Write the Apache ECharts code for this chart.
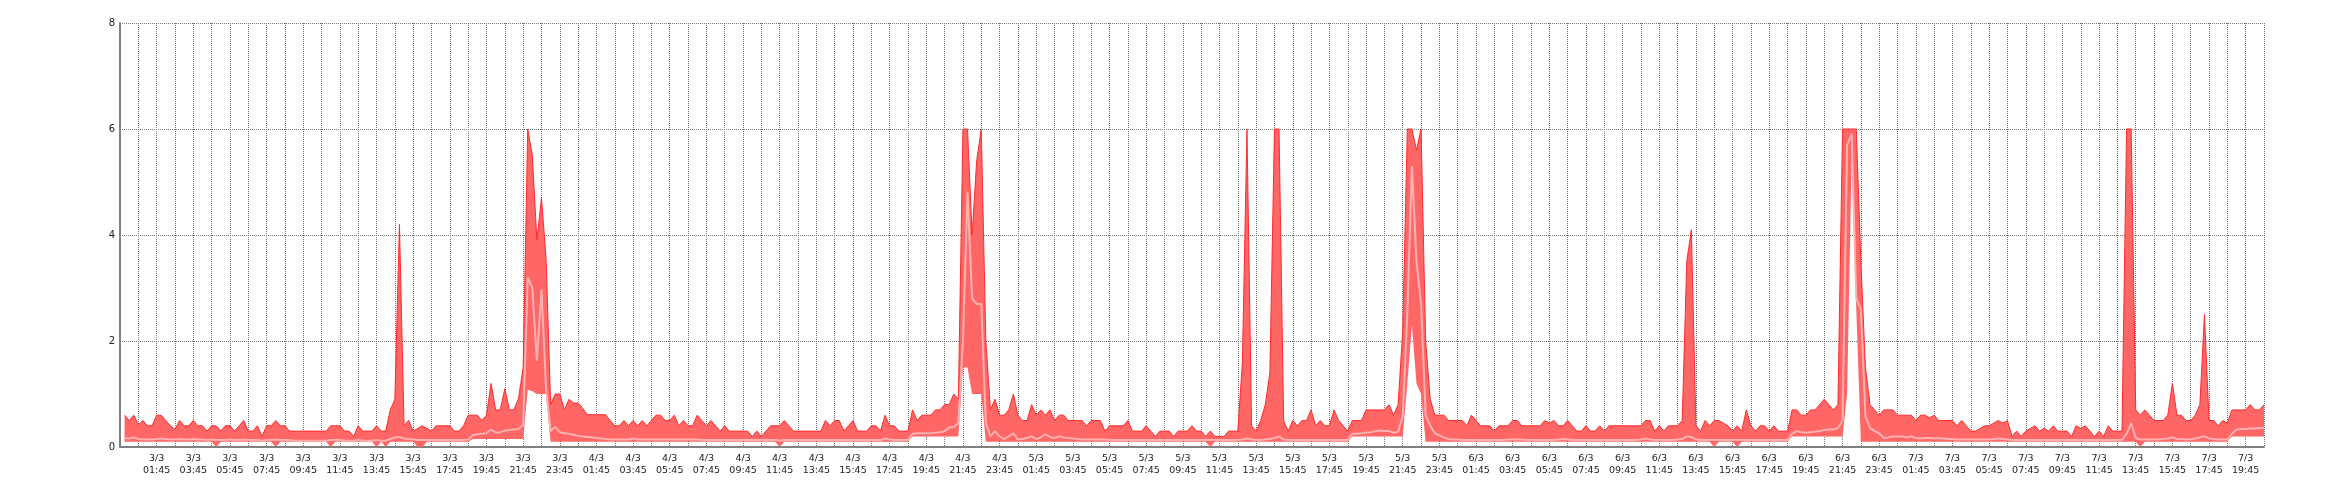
<!DOCTYPE html>
<html><head><meta charset="utf-8">
<script src="https://cdn.jsdelivr.net/npm/echarts@6/dist/echarts.min.js"></script>
<style>html,body{margin:0;padding:0;background:#fff}#c{width:2340px;height:500px}</style>
</head><body><div id="c"></div>
<script>
// day labels of the x axis
const days = ['3/3', '4/3', '5/3', '6/3', '7/3'];
// first sample time, in hours relative to 3/3 00:45, and sample step (15 min)
const firstT = -0.75;
const stepH = 0.25;

// maximum per 15-minute sample
const maxVals = [
0.6,0.5,0.6,0.42,0.5,0.4,0.4,0.6,0.6,0.5,
0.4,0.33,0.5,0.4,0.4,0.5,0.4,0.4,0.3,0.4,
0.4,0.3,0.4,0.4,0.3,0.4,0.5,0.3,0.3,0.4,
0.2,0.4,0.4,0.5,0.4,0.4,0.3,0.3,0.3,0.3,
0.3,0.3,0.3,0.3,0.3,0.4,0.4,0.4,0.3,0.3,
0.2,0.4,0.3,0.3,0.3,0.4,0.3,0.3,0.7,0.9,
4.2,0.4,0.5,0.3,0.35,0.4,0.35,0.3,0.4,0.4,
0.4,0.4,0.3,0.3,0.4,0.6,0.6,0.6,0.5,0.6,
1.2,0.7,0.7,1.1,0.7,0.7,0.92,1.5,6.0,5.5,
3.9,4.7,3.57,0.8,1.0,1.0,0.7,0.9,0.83,0.83,
0.73,0.61,0.61,0.61,0.61,0.61,0.5,0.4,0.4,0.5,
0.4,0.5,0.4,0.5,0.4,0.5,0.6,0.6,0.5,0.5,
0.6,0.4,0.5,0.4,0.4,0.6,0.5,0.4,0.5,0.4,
0.3,0.4,0.3,0.3,0.3,0.3,0.3,0.2,0.3,0.2,
0.3,0.4,0.4,0.4,0.5,0.4,0.3,0.3,0.3,0.3,
0.3,0.3,0.3,0.5,0.4,0.5,0.5,0.3,0.4,0.5,
0.3,0.3,0.3,0.4,0.4,0.3,0.6,0.4,0.4,0.3,
0.3,0.3,0.7,0.5,0.6,0.6,0.6,0.7,0.7,0.8,
0.8,1.0,0.9,6.0,6.0,4.0,5.4,6.0,2.0,0.7,
0.9,0.6,0.6,0.7,1.0,0.6,0.5,0.5,0.8,0.6,
0.7,0.6,0.7,0.5,0.6,0.6,0.5,0.5,0.5,0.5,
0.4,0.5,0.5,0.5,0.3,0.4,0.4,0.4,0.4,0.5,
0.3,0.3,0.3,0.4,0.3,0.2,0.3,0.3,0.3,0.2,
0.3,0.3,0.3,0.4,0.3,0.3,0.2,0.3,0.2,0.2,
0.2,0.3,0.3,0.3,1.6,6.0,0.4,0.3,0.5,0.8,
1.4,6.0,6.0,0.5,0.3,0.5,0.4,0.5,0.5,0.7,
0.4,0.5,0.4,0.4,0.7,0.5,0.4,0.3,0.5,0.5,
0.5,0.7,0.7,0.7,0.7,0.7,0.8,0.6,0.8,2.2,
6.0,6.0,5.6,6.0,2.0,0.9,0.6,0.6,0.6,0.5,
0.5,0.5,0.5,0.4,0.6,0.5,0.4,0.4,0.4,0.3,
0.4,0.4,0.4,0.5,0.5,0.4,0.4,0.4,0.4,0.4,
0.5,0.45,0.5,0.4,0.4,0.5,0.4,0.3,0.3,0.4,
0.3,0.3,0.4,0.3,0.4,0.4,0.4,0.4,0.4,0.4,
0.4,0.4,0.5,0.5,0.3,0.4,0.3,0.4,0.4,0.4,
0.5,3.5,4.1,0.4,0.3,0.5,0.4,0.5,0.5,0.45,
0.4,0.3,0.4,0.3,0.7,0.4,0.3,0.4,0.4,0.3,
0.4,0.3,0.3,0.3,0.7,0.7,0.6,0.6,0.7,0.7,
0.8,0.9,0.8,0.7,0.8,6.0,6.0,6.0,6.0,3.5,
1.5,0.8,0.7,0.6,0.7,0.7,0.7,0.6,0.6,0.6,
0.6,0.5,0.6,0.6,0.55,0.6,0.5,0.5,0.5,0.5,
0.4,0.5,0.4,0.3,0.3,0.35,0.4,0.4,0.45,0.5,
0.45,0.5,0.2,0.3,0.2,0.3,0.35,0.4,0.3,0.35,
0.3,0.4,0.3,0.3,0.3,0.2,0.4,0.35,0.4,0.3,
0.2,0.3,0.2,0.4,0.3,0.3,0.3,6.0,6.0,0.7,
0.6,0.7,0.6,0.5,0.5,0.5,0.6,1.2,0.6,0.6,
0.5,0.5,0.6,0.8,2.5,0.5,0.5,0.4,0.5,0.45,
0.7,0.7,0.7,0.7,0.8,0.7,0.7,0.8
];

// minimum per 15-minute sample
const minVals = [
0.1,0.1,0.1,0.1,0.1,0.1,0.1,0.1,0.1,0.1,
0.1,0.1,0.1,0.1,0.1,0.1,0.1,0.1,0.1,0.1,
0,0.1,0.1,0.1,0.1,0.1,0.1,0.1,0.1,0.1,
0.1,0.1,0.1,0,0.1,0.1,0.1,0.1,0.1,0.1,
0.1,0.1,0.1,0.1,0.1,0,0.1,0.1,0.1,0.1,
0.1,0.1,0.1,0.1,0.1,0,0.1,0,0.1,0.1,
0.1,0.1,0.1,0.1,0,0,0.1,0.1,0.1,0.1,
0.1,0.1,0.1,0.1,0.1,0.1,0.15,0.15,0.15,0.15,
0.15,0.15,0.15,0.15,0.15,0.15,0.15,0.15,1.08,1.05,
1.0,1.0,1.0,0.1,0.1,0.1,0.1,0.1,0.1,0.1,
0.1,0.1,0.1,0.1,0.1,0.1,0.1,0.1,0.1,0.1,
0.1,0.1,0.1,0.1,0.1,0.1,0.1,0.1,0.1,0.1,
0.1,0.1,0.1,0.1,0.1,0.1,0.1,0.1,0.1,0.1,
0.1,0.1,0.1,0.1,0.1,0.1,0.1,0.1,0.1,0.1,
0.1,0.1,0.1,0,0.1,0.1,0.1,0.1,0.1,0.1,
0.1,0.1,0.1,0.1,0.1,0.1,0.1,0.1,0.1,0.1,
0.1,0.1,0.1,0.1,0.1,0.1,0.1,0.1,0.1,0.1,
0.1,0.1,0.2,0.2,0.2,0.2,0.2,0.2,0.2,0.2,
0.2,0.2,0.2,1.5,1.5,1.0,1.0,1.0,0.1,0.1,
0.1,0.1,0.1,0.1,0.1,0.1,0.1,0.1,0.1,0.1,
0.1,0.1,0.1,0.1,0.1,0.1,0.1,0.1,0.1,0.1,
0.1,0.1,0.1,0.1,0.1,0.1,0.1,0.1,0.1,0.1,
0.1,0.1,0.1,0.1,0.1,0.1,0.1,0.1,0.1,0.1,
0.1,0.1,0.1,0.1,0.1,0.1,0.1,0,0.1,0.1,
0.1,0.1,0.1,0.1,0.1,0.1,0.1,0.1,0.1,0.1,
0.1,0.1,0.1,0.1,0.1,0.1,0.1,0.1,0.1,0.1,
0.1,0.1,0.1,0.1,0.1,0.1,0.1,0.1,0.2,0.2,
0.2,0.2,0.2,0.2,0.2,0.2,0.2,0.2,0.2,0.2,
1.2,2.3,1.2,1.0,0.1,0.1,0.1,0.1,0.1,0.1,
0.1,0.1,0.1,0.1,0.1,0.1,0.1,0.1,0.1,0.1,
0.1,0.1,0.1,0.1,0.1,0.1,0.1,0.1,0.1,0.1,
0.1,0.1,0.1,0.1,0.1,0.1,0.1,0.1,0.1,0.1,
0.1,0.1,0.1,0.1,0.1,0.1,0.1,0.1,0.1,0.1,
0.1,0.1,0.1,0.1,0.1,0.1,0.1,0.1,0.1,0.1,
0.1,0.1,0.1,0.1,0.1,0.1,0.1,0,0.1,0.1,
0.1,0.1,0,0.1,0.1,0.1,0.1,0.1,0.1,0.1,
0.1,0.1,0.1,0.1,0.2,0.2,0.2,0.2,0.2,0.2,
0.2,0.2,0.2,0.2,0.2,0.2,1.0,5.5,2.6,0.1,
0.1,0.1,0.1,0.1,0.1,0.1,0.1,0.1,0.1,0.1,
0.1,0.1,0.1,0.1,0.1,0.1,0.1,0.1,0.1,0.1,
0.1,0.1,0.1,0.1,0.1,0.1,0.1,0.1,0.1,0.1,
0.1,0.1,0.1,0.1,0.1,0.1,0.1,0.1,0.1,0.1,
0.1,0.1,0.1,0.1,0.1,0.1,0.1,0.1,0.1,0.1,
0.1,0.1,0.1,0.1,0.1,0.1,0.1,0.1,0.1,0.1,
0,0.1,0.1,0.1,0.1,0.1,0.1,0.1,0.1,0.1,
0.1,0.1,0.1,0.1,0.1,0.1,0.1,0.1,0.1,0.1,
0.2,0.2,0.2,0.2,0.2,0.2,0.2,0.2
];

// average per 15-minute sample
const avgVals = [
0.17,0.16,0.18,0.15,0.14,0.14,0.14,0.15,0.16,0.15,
0.14,0.14,0.15,0.14,0.14,0.15,0.14,0.14,0.13,0.14,
0.13,0.13,0.13,0.14,0.13,0.13,0.14,0.13,0.13,0.13,
0.12,0.13,0.13,0.14,0.13,0.13,0.13,0.12,0.12,0.12,
0.12,0.12,0.12,0.12,0.12,0.13,0.13,0.13,0.12,0.12,
0.12,0.13,0.12,0.12,0.12,0.13,0.12,0.12,0.15,0.18,
0.19,0.16,0.15,0.14,0.13,0.13,0.13,0.13,0.13,0.13,
0.13,0.13,0.13,0.13,0.13,0.14,0.22,0.24,0.25,0.26,
0.33,0.27,0.28,0.31,0.32,0.33,0.34,0.42,3.2,3.0,
1.63,2.97,1.1,0.3,0.38,0.28,0.26,0.25,0.23,0.21,
0.2,0.19,0.18,0.17,0.16,0.15,0.14,0.14,0.14,0.14,
0.14,0.16,0.14,0.14,0.14,0.14,0.14,0.14,0.14,0.14,
0.14,0.14,0.14,0.14,0.14,0.14,0.13,0.13,0.13,0.13,
0.13,0.13,0.13,0.13,0.13,0.13,0.13,0.13,0.13,0.13,
0.13,0.13,0.13,0.12,0.13,0.13,0.13,0.13,0.13,0.13,
0.13,0.13,0.13,0.13,0.13,0.13,0.13,0.13,0.13,0.13,
0.13,0.13,0.13,0.13,0.13,0.13,0.16,0.14,0.13,0.13,
0.13,0.13,0.25,0.26,0.26,0.26,0.26,0.27,0.28,0.3,
0.37,0.38,0.45,2.0,4.8,2.8,2.7,2.7,0.45,0.2,
0.3,0.2,0.15,0.2,0.26,0.14,0.15,0.17,0.2,0.15,
0.18,0.24,0.19,0.17,0.2,0.18,0.17,0.16,0.15,0.14,
0.14,0.14,0.14,0.14,0.14,0.13,0.13,0.13,0.13,0.13,
0.13,0.13,0.13,0.13,0.13,0.13,0.13,0.13,0.13,0.13,
0.13,0.13,0.13,0.13,0.13,0.13,0.13,0.13,0.13,0.13,
0.13,0.13,0.13,0.13,0.14,0.16,0.14,0.13,0.13,0.14,
0.15,0.17,0.2,0.14,0.13,0.13,0.13,0.13,0.13,0.13,
0.13,0.13,0.13,0.13,0.13,0.13,0.13,0.13,0.25,0.25,
0.26,0.27,0.28,0.3,0.31,0.3,0.3,0.27,0.29,0.58,
2.5,5.3,3.5,2.7,0.6,0.4,0.26,0.22,0.18,0.15,
0.14,0.14,0.13,0.13,0.13,0.13,0.13,0.13,0.13,0.13,
0.13,0.13,0.14,0.14,0.14,0.14,0.13,0.13,0.13,0.13,
0.13,0.13,0.13,0.14,0.15,0.14,0.13,0.13,0.13,0.13,
0.13,0.13,0.13,0.13,0.13,0.13,0.13,0.13,0.13,0.13,
0.13,0.14,0.16,0.14,0.13,0.13,0.13,0.13,0.13,0.14,
0.15,0.2,0.19,0.14,0.13,0.13,0.13,0.13,0.13,0.13,
0.13,0.13,0.13,0.13,0.13,0.13,0.13,0.13,0.13,0.13,
0.13,0.13,0.13,0.13,0.25,0.3,0.28,0.27,0.28,0.29,
0.3,0.32,0.33,0.33,0.36,0.5,5.7,5.9,2.8,2.6,
0.58,0.36,0.3,0.26,0.17,0.18,0.2,0.2,0.2,0.18,
0.2,0.17,0.16,0.17,0.17,0.16,0.17,0.16,0.15,0.15,
0.14,0.14,0.14,0.14,0.14,0.14,0.14,0.14,0.15,0.16,
0.15,0.14,0.13,0.13,0.13,0.13,0.13,0.13,0.13,0.13,
0.13,0.13,0.13,0.13,0.13,0.13,0.13,0.13,0.13,0.13,
0.13,0.13,0.13,0.13,0.13,0.13,0.13,0.25,0.45,0.17,
0.14,0.14,0.14,0.14,0.14,0.15,0.16,0.18,0.15,0.15,
0.14,0.14,0.16,0.18,0.2,0.16,0.15,0.14,0.14,0.14,
0.25,0.33,0.34,0.34,0.35,0.35,0.36,0.36
];

const tAt = i => firstT + i * stepH;
const bandData = maxVals.map((v, i) => [tAt(i), v, minVals[i]]);
const avgData = avgVals.map((v, i) => [tAt(i), v]);

function xLabel(v) {
  if (Math.abs(v - Math.round(v)) > 1e-6) return '';
  v = Math.round(v);
  if (v < 1 || v % 2 === 0) return '';
  const day = Math.floor((v + 0.75) / 24);
  const hh = Math.floor(v + 0.75) % 24;
  return days[day] + '\n' + String(hh).padStart(2, '0') + ':45';
}

function renderBand(params, api) {
  if (params.dataIndex !== 0) return null;
  const top = [], bot = [];
  for (let i = 0; i < maxVals.length; i++) {
    top.push(api.coord([tAt(i), maxVals[i]]));
    bot.push(api.coord([tAt(i), minVals[i]]));
  }
  const poly = top.concat(bot.slice().reverse());
  return {
    type: 'group',
    children: [
      {type: 'polygon', shape: {points: poly}, style: {fill: '#ff6666', stroke: null}},
      {type: 'polyline', shape: {points: top}, style: {stroke: '#ff2a2a', lineWidth: 1, fill: null}}
    ]
  };
}

const chart = echarts.init(document.getElementById('c'), null, {renderer: 'canvas'});
chart.setOption({
  animation: false,
  backgroundColor: '#ffffff',
  grid: {left: 120, right: 76, top: 23, bottom: 53, containLabel: false},
  xAxis: {
    type: 'value', min: -1, max: 116, interval: 1,
    axisLine: {show: true, onZero: false, lineStyle: {color: '#808080', width: 2}},
    axisTick: {show: false},
    axisLabel: {formatter: xLabel, color: '#222', fontFamily: 'DejaVu Sans', fontSize: 9.5,
      lineHeight: 12, margin: 6, hideOverlap: false, showMinLabel: true, showMaxLabel: true},
    splitLine: {show: true, lineStyle: {color: '#777', type: 'dotted', width: 1}}
  },
  yAxis: {
    type: 'value', min: 0, max: 8, interval: 2,
    axisLine: {show: true, onZero: false, lineStyle: {color: '#808080', width: 2}},
    axisTick: {show: false},
    axisLabel: {color: '#222', fontFamily: 'DejaVu Sans', fontSize: 10, margin: 5},
    splitLine: {show: true, lineStyle: {color: '#777', type: 'dotted', width: 1}}
  },
  series: [
    {type: 'custom', name: 'band', data: bandData, encode: {x: 0, y: 1},
      renderItem: renderBand, silent: true, clip: true},
    {type: 'line', name: 'avg', data: avgData, symbol: 'none',
      lineStyle: {color: '#ffb0b0', width: 2}}
  ]
});
</script>
</body></html>
